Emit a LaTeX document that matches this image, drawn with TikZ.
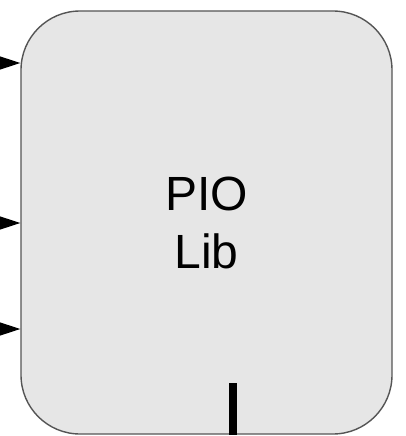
\documentclass[tikz,border=0pt]{standalone}
\usepackage{fontspec}
\setmainfont{Liberation Sans}
\usetikzlibrary{arrows.meta}
\definecolor{libfill}{HTML}{E6E6E6}
\definecolor{libline}{HTML}{555555}

\begin{document}
\begin{tikzpicture}[x=1pt,y=-1pt,
    libbox/.style={draw=libline, line width=1.4pt, fill=libfill, rounded corners=59pt,
        minimum width=371pt, minimum height=423pt, inner sep=0pt, align=center,
        font=\fontsize{48}{58}\selectfont},
    inarrow/.style={-{Triangle[length=28pt,width=18pt]}, line width=1pt, black}]
            \useasboundingbox (0,0) rectangle (405,436);
            \node [libbox] (lib) at (206.5,222.5) {PIO\\Lib};
            \coordinate (in1) at (-20,63);
            \coordinate (in2) at (-20,223);
            \coordinate (in3) at (-20,329);
            \draw [inarrow] (in1) -- (in1 -| lib.west);
            \draw [inarrow] (in2) -- (in2 -| lib.west);
            \draw [inarrow] (in3) -- (in3 -| lib.west);
            \coordinate (out) at (233,383);
            \draw [black, line width=8pt] (out) -- (out |- lib.south);
\end{tikzpicture}
\end{document}
